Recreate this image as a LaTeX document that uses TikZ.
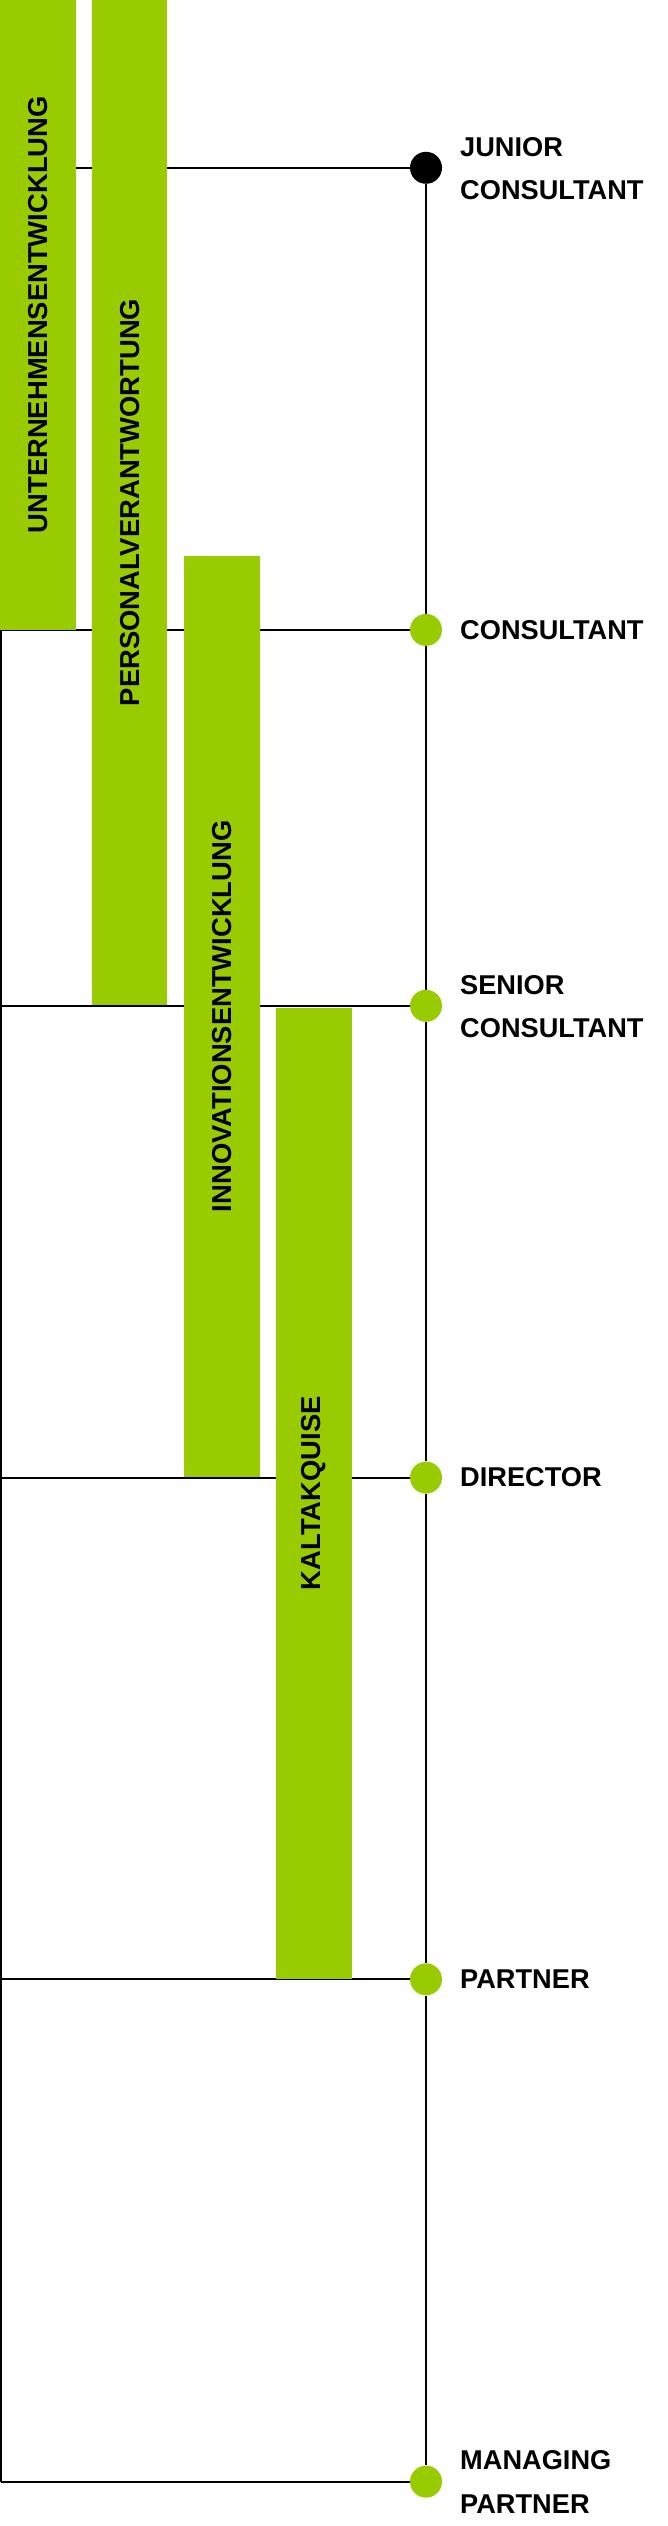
\documentclass[tikz,border=0pt]{standalone}
\usepackage{fontspec}
\setmainfont{Liberation Sans}
\usetikzlibrary{backgrounds}
\definecolor{lime}{RGB}{153,204,0}
\tikzset{
  barbox/.style={fill=lime, rotate=90, inner sep=0pt, minimum height=75.7pt,
    font=\fontsize{27.4}{30}\selectfont\bfseries, text=black},
  dotgreen/.style={circle, fill=lime, minimum size=32pt, inner sep=0pt},
  dotblack/.style={circle, fill=black, minimum size=32pt, inner sep=0pt},
  lvl/.style={anchor=west, inner sep=0pt, align=left,
    font=\fontsize{27.2}{43.3}\selectfont\bfseries, text=black},
  rule/.style={line width=2pt, black}
}
\begin{document}
\begin{tikzpicture}[x=1pt,y=1pt]
\useasboundingbox (0,0) rectangle (668,-2526);
% bars
\node[barbox, minimum width=629.5pt] (b1) at (37.9,-314.75) {UNTERNEHMENSENTWICKLUNG};
\node[barbox, minimum width=1005pt] (b2) at (129.6,-502.5) {PERSONALVERANTWORTUNG};
\node[barbox, minimum width=920.9pt] (b3) at (221.9,-1016.25) {INNOVATIONSENTWICKLUNG};
\node[barbox, minimum width=970.5pt] (b4) at (314.0,-1493.25) {KALTAKQUISE};
% level dots
\node[dotblack] (c1) at (426,-167.8) {};
\node[dotgreen] (c2) at (426,-629.9) {};
\node[dotgreen] (c3) at (426,-1005.8) {};
\node[dotgreen] (c4) at (426,-1477.6) {};
\node[dotgreen] (c5) at (426,-1979.3) {};
\node[dotgreen] (c6) at (426,-2481.6) {};
% labels
\node[lvl] (t1) at (460,-168.3) {JUNIOR\\CONSULTANT};
\node[lvl] (t2) at (460,-629.9) {CONSULTANT};
\node[lvl] (t3) at (460,-1006.3) {SENIOR\\CONSULTANT};
\node[lvl] (t4) at (460,-1477.6) {DIRECTOR};
\node[lvl] (t5) at (460,-1979.3) {PARTNER};
\node[lvl] (t6) at (460,-2482.1) {MANAGING\\PARTNER};
% left frame ends
\coordinate (L1) at (1.2,-167.8);
\coordinate (L2) at (1.2,-629.9);
\coordinate (L3) at (1.2,-1005.8);
\coordinate (L4) at (1.2,-1477.6);
\coordinate (L5) at (1.2,-1979.3);
\coordinate (L6) at (1.2,-2481.6);
\begin{pgfonlayer}{background}
\draw[rule] (L1) -- (c1);
\draw[rule] (L2) -- (c2);
\draw[rule] (L3) -- (c3);
\draw[rule] (L4) -- (c4);
\draw[rule] (L5) -- (c5);
\draw[rule] (L6) -- (c6);
\draw[rule] (L1) -- (L6);
\draw[rule] (c1) -- (c2) -- (c3) -- (c4) -- (c5) -- (c6);
\end{pgfonlayer}
\end{tikzpicture}
\end{document}
